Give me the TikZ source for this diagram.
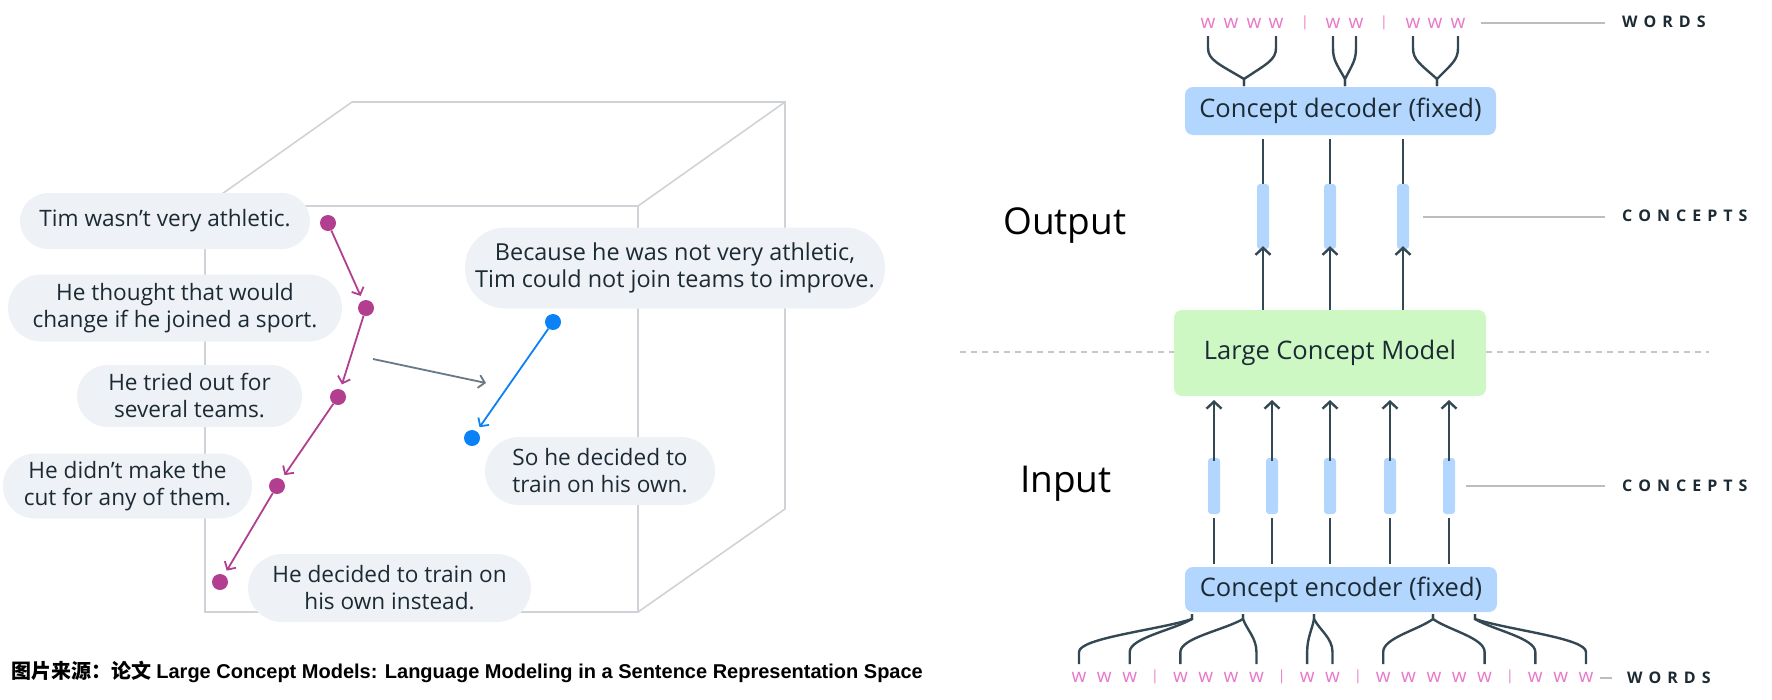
\documentclass[tikz,border=0pt]{standalone}
\usepackage{fontspec}
\setmainfont{Open Sans}
\newfontfamily\cjkfont{Noto Sans CJK SC}
\newfontfamily\capfont{Liberation Sans}
\usetikzlibrary{arrows.meta}
\definecolor{bubblec}{RGB}{238,241,245}
\definecolor{textc}{RGB}{28,43,51}
\definecolor{magc}{RGB}{178,62,144}
\definecolor{bluec}{RGB}{10,130,245}
\definecolor{grayarr}{RGB}{103,121,135}
\definecolor{cubec}{RGB}{207,211,215}
\definecolor{boxblue}{RGB}{178,214,254}
\definecolor{boxgreen}{RGB}{205,248,196}
\definecolor{darkc}{RGB}{52,72,84}
\definecolor{pinkc}{RGB}{232,120,200}
\definecolor{labline}{RGB}{185,190,195}
\definecolor{dashc}{RGB}{196,200,204}
\tikzset{
  bubble/.style={fill=bubblec, text=textc, align=center, inner sep=0pt,
    font=\fontsize{22.6}{27}\selectfont},
  dotm/.style={circle, fill=magc, minimum size=16pt, inner sep=0pt},
  dotb/.style={circle, fill=bluec, minimum size=16pt, inner sep=0pt},
  sarrow/.style={line width=1.8pt, -{Straight Barb[length=6pt,width=13pt,line width=1.8pt]}, shorten >=5pt},
  cubeline/.style={cubec, line width=1.6pt},
  bigbox/.style={rounded corners=8pt, text=textc, inner sep=0pt, font=\fontsize{25.5}{30}\selectfont},
  cbar/.style={fill=boxblue, rounded corners=3pt, minimum width=12pt, minimum height=65pt, inner sep=0pt},
  conn/.style={darkc, line width=2.4pt},
  uparrow/.style={darkc, line width=2.4pt, -{Straight Barb[length=7pt,width=15pt,line width=2.4pt]}},
  wordt/.style={text=pinkc, font=\fontsize{19}{20}\selectfont, inner sep=0pt},
  bart/.style={text=pinkc, font=\fontsize{14}{16}\selectfont, inner sep=0pt},
  lab/.style={text=textc, font=\bfseries\fontsize{16}{18}\selectfont, anchor=west, inner sep=0pt},
  labl/.style={labline, line width=1.6pt},
  sidet/.style={text=black, font=\fontsize{37}{40}\selectfont, anchor=west, inner sep=0pt}
}
\newcommand\lsp{\kern6pt}
\begin{document}
\begin{tikzpicture}[x=1pt,y=-1pt]
\useasboundingbox (0,0) rectangle (1772,699);

% ---------------- cube ----------------
\draw[cubeline] (205,206) rectangle (638,612);
\draw[cubeline] (205,206) -- (352,102) -- (785,102) -- (785,509) -- (638,612);
\draw[cubeline] (785,102) -- (638,206);

% ---------------- bubbles ----------------
\node[bubble, minimum width=290pt, minimum height=56pt, rounded corners=28pt] (b1) at (165,221) {Tim wasn’t very athletic.};
\node[bubble, minimum width=334pt, minimum height=67pt, rounded corners=33pt] (b2) at (175,308) {He thought that would\\change if he joined a sport.};
\node[bubble, minimum width=225pt, minimum height=62pt, rounded corners=31pt] (b3) at (189.5,396) {He tried out for\\several teams.};
\node[bubble, minimum width=249pt, minimum height=65pt, rounded corners=32pt] (b4) at (127.5,486) {He didn’t make the\\cut for any of them.};
\node[bubble, minimum width=283pt, minimum height=68pt, rounded corners=34pt] (b6) at (389.5,588) {He decided to train on\\his own instead.};
\node[bubble, minimum width=420pt, minimum height=81pt, rounded corners=40pt, font=\fontsize{23.4}{27}\selectfont] (br1) at (675,268) {Because he was not very athletic,\\Tim could not join teams to improve.};
\node[bubble, minimum width=230pt, minimum height=68pt, rounded corners=34pt] (br2) at (600,471) {So he decided to\\train on his own.};

% ---------------- dots and arrows ----------------
\node[dotm] (d1) at (328,223) {};
\node[dotm] (d2) at (366,308) {};
\node[dotm] (d3) at (338,397) {};
\node[dotm] (d4) at (277,486) {};
\node[dotm] (d5) at (220,582) {};
\draw[sarrow, magc] (d1) -- (d2);
\draw[sarrow, magc] (d2) -- (d3);
\draw[sarrow, magc] (d3) -- (d4);
\draw[sarrow, magc] (d4) -- (d5);
\node[dotb] (e1) at (553,322) {};
\node[dotb] (e2) at (472,438) {};
\draw[sarrow, bluec] (e1) -- (e2);
\coordinate (g1) at (373,359);
\coordinate (g2) at (486,383);
\draw[line width=1.8pt, grayarr, -{Straight Barb[length=6pt,width=13pt,line width=1.8pt]}] (g1) -- (g2);

% ---------------- caption ----------------
\node[anchor=west, inner sep=0pt, font=\bfseries\fontsize{20}{22}\selectfont, text=black] (cap) at (11,672)
 {{\cjkfont\bfseries 图片来源：论文} {\capfont\bfseries Large Concept Models: Language Modeling in a Sentence Representation Space}};

% ---------------- right diagram ----------------
\draw[dashc, line width=1.4pt, dash pattern=on 6pt off 5pt] (960,352) -- (1174,352);
\draw[dashc, line width=1.4pt, dash pattern=on 6pt off 5pt] (1486,352) -- (1709,352);

\node[bigbox, fill=boxblue, minimum width=311pt, minimum height=48pt] (dec) at (1340.5,111) {Concept decoder (fixed)};
\node[bigbox, fill=boxgreen, minimum width=312pt, minimum height=86pt] (lcm) at (1330,353) {Large Concept Model};
\node[bigbox, fill=boxblue, minimum width=312pt, minimum height=45pt] (enc) at (1341,589.5) {Concept encoder (fixed)};

\node[sidet] (outp) at (1003,226) {Output};
\node[sidet] (inp) at (1020,484) {Input};

% output concepts
\foreach \i/\x in {1/1263,2/1330,3/1403}{
  \node[cbar] (oc\i) at (\x,216.5) {};
  \draw[conn] (\x,139) -- (oc\i.north);
  \draw[uparrow] (\x,310) -- ([yshift=3pt]oc\i.south);
}
% input concepts
\foreach \i/\x in {1/1214,2/1272,3/1330,4/1390,5/1449}{
  \node[cbar, minimum height=56pt] (ic\i) at (\x,486) {};
  \draw[conn] (ic\i.south) ++(0,4) -- (\x,564);
  \draw[uparrow] ([yshift=-3pt]ic\i.north) -- (\x,400);
}

% label lines
\draw[labl] (1481,23) -- (1605,23);
\node[lab] (lw1) at (1622,22) {W\lsp O\lsp R\lsp D\lsp S};
\draw[labl] (1423,217) -- (1605,217);
\node[lab] (lc1) at (1622,216) {C\lsp O\lsp N\lsp C\lsp E\lsp P\lsp T\lsp S};
\draw[labl] (1466,486) -- (1605,486);
\node[lab] (lc2) at (1622,486) {C\lsp O\lsp N\lsp C\lsp E\lsp P\lsp T\lsp S};
\draw[labl] (1600,678) -- (1612,678);
\node[lab] (lw2) at (1627,678) {W\lsp O\lsp R\lsp D\lsp S};

% top words
\foreach \n/\x in {t1/1208,t2/1231,t3/1254,t4/1276,t6/1333,t7/1356,t9/1413,t10/1435,t11/1458}{
  \node[wordt] (\n) at (\x,23) {w};
}
\node[bart] (t5) at (1305,23) {|};
\node[bart] (t8) at (1384,23) {|};

% top curves
\foreach \wx/\mx in {1208/1244,1276/1244,1333/1345,1356/1345,1413/1437,1458/1437}{
  \draw[conn] (\wx,36) -- (\wx,48) .. controls (\wx,60) and ({\wx+0.3*(\mx-\wx)},64) .. (\mx,79) -- (\mx,86);
}

% bottom words
\foreach \k in {0,...,20}{
  \pgfmathsetmacro\xx{1079+25.35*\k}
  \ifnum\k=3 \node[bart] (u\k) at (\xx,677) {|};
  \else\ifnum\k=8 \node[bart] (u\k) at (\xx,677) {|};
  \else\ifnum\k=11 \node[bart] (u\k) at (\xx,677) {|};
  \else\ifnum\k=17 \node[bart] (u\k) at (\xx,677) {|};
  \else \node[wordt] (u\k) at (\xx,677) {w};
  \fi\fi\fi\fi
}
% bottom curves
\foreach \k/\mx in {0/1192,2/1192,4/1243,7/1243,9/1314,10/1314,12/1433,16/1433,18/1475,20/1475}{
  \pgfmathsetmacro\wx{1079+25.35*\k}
  \draw[conn] (\mx,614) -- (\mx,619) .. controls ({\mx+0.3*(\wx-\mx)},630) and (\wx,638) .. (\wx,652) -- (\wx,664);
}
\end{tikzpicture}
\end{document}
